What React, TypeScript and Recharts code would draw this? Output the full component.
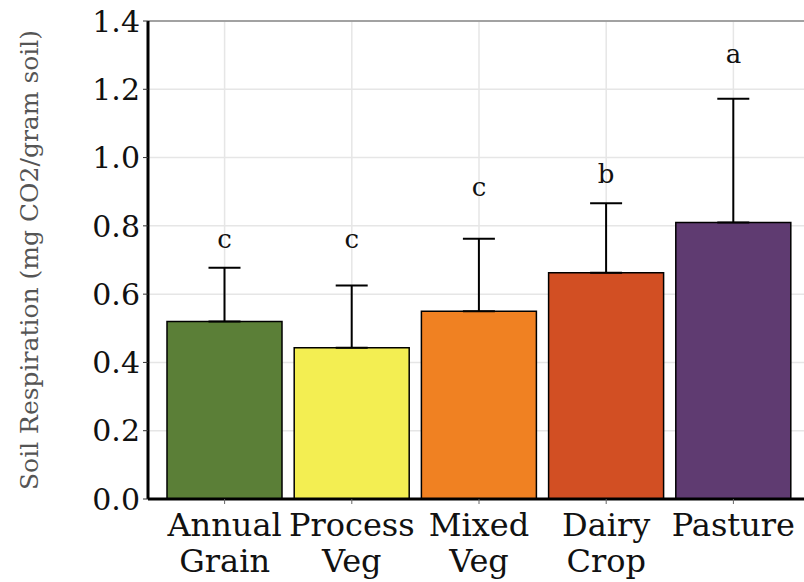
import React from "react";
import {
  ComposedChart,
  Bar,
  Cell,
  ErrorBar,
  Scatter,
  XAxis,
  YAxis,
  CartesianGrid,
  ReferenceLine,
} from "recharts";

// land use categories (two-line tick labels)
const categories = ["Annual Grain", "Process Veg", "Mixed Veg", "Dairy Crop", "Pasture"];
const labelLines = [["Annual", "Grain"], ["Process", "Veg"], ["Mixed", "Veg"], ["Dairy", "Crop"], ["Pasture"]];
const means = [0.52, 0.443, 0.55, 0.663, 0.81];
const sds = [0.157, 0.182, 0.212, 0.203, 0.362];
const letters = ["c", "c", "c", "b", "a"];
const letterY = [0.734, 0.734, 0.886, 0.925, 1.276];
const barColors = ["#5b7f37", "#f3ee52", "#f08122", "#d24f23", "#5f3b71"];

const yTicks = [0, 0.2, 0.4, 0.6, 0.8, 1.0, 1.2, 1.4];
const minorTicks = [0.1, 0.3, 0.5, 0.7, 0.9, 1.1, 1.3];

const FONT = "'DejaVu Serif', serif";

const data = categories.map((name, i) => ({
  name,
  mean: means[i],
  err: [0, sds[i]],
  letter: letters[i],
  letterY: letterY[i],
}));

const CatTick = (props: any) => {
  const { x, y, index } = props;
  const lines = labelLines[index] || [];
  return (
    <text x={x} y={y} textAnchor="middle" fontFamily={FONT} fontSize={32} fill="#111">
      {lines.map((l, i) => (
        <tspan key={i} x={x} dy={i === 0 ? 30 : 36}>
          {l}
        </tspan>
      ))}
    </text>
  );
};

const LetterShape = (props: any) => {
  const { cx, cy, payload } = props;
  return (
    <text x={cx} y={cy} textAnchor="middle" fontFamily={FONT} fontSize={26} fill="#111">
      {payload.letter}
    </text>
  );
};

const YTitle = (props: any) => {
  const vb = props.viewBox;
  const cx = 29;
  const cy = vb.y + vb.height / 2;
  return (
    <text
      x={cx}
      y={cy}
      transform={`rotate(-90 ${cx} ${cy})`}
      textAnchor="middle"
      dominantBaseline="central"
      fontFamily={FONT}
      fontSize={25}
      fill="#555"
    >
      Soil Respiration (mg CO2/gram soil)
    </text>
  );
};

export default function App() {
  return (
    <div
      style={{
        position: "absolute",
        left: 0,
        top: 0,
        width: 804,
        height: 582,
        overflow: "hidden",
        background: "#fff",
      }}
    >
      <ComposedChart
        width={812}
        height={582}
        data={data}
        margin={{ top: 21, right: 2, bottom: 0, left: 0 }}
      >
        {/* minor gridlines from a hidden axis */}
        <CartesianGrid yAxisId="minor" vertical={false} stroke="#f2f2f2" strokeWidth={1} />
        <CartesianGrid stroke="#e6e6e6" strokeWidth={1.5} />
        <ReferenceLine y={1.4} stroke="#8a8a8a" strokeWidth={1.5} />
        <XAxis
          dataKey="name"
          height={83}
          padding={{ left: 13, right: 13 }}
          axisLine={{ stroke: "#000", strokeWidth: 3 }}
          tickLine={{ stroke: "#666" }}
          tickSize={5}
          tickMargin={2}
          tick={<CatTick />}
          interval={0}
        />
        <YAxis yAxisId="minor" hide domain={[0, 1.4]} ticks={minorTicks} />
        <YAxis
          width={148}
          domain={[0, 1.4]}
          ticks={yTicks}
          tickFormatter={(v: number) => v.toFixed(1)}
          axisLine={{ stroke: "#000", strokeWidth: 3 }}
          tickLine={{ stroke: "#333" }}
          tickSize={5}
          tickMargin={3}
          tick={{ fontFamily: FONT, fontSize: 30, fill: "#111" }}
          label={<YTitle />}
        />
        <Bar dataKey="mean" barSize={115} stroke="#000" strokeWidth={1.5} isAnimationActive={false}>
          {data.map((d, i) => (
            <Cell key={d.name} fill={barColors[i]} />
          ))}
          <ErrorBar dataKey="err" width={16} stroke="#000" strokeWidth={2} />
        </Bar>
        <Scatter dataKey="letterY" shape={<LetterShape />} isAnimationActive={false} />
      </ComposedChart>
    </div>
  );
}
